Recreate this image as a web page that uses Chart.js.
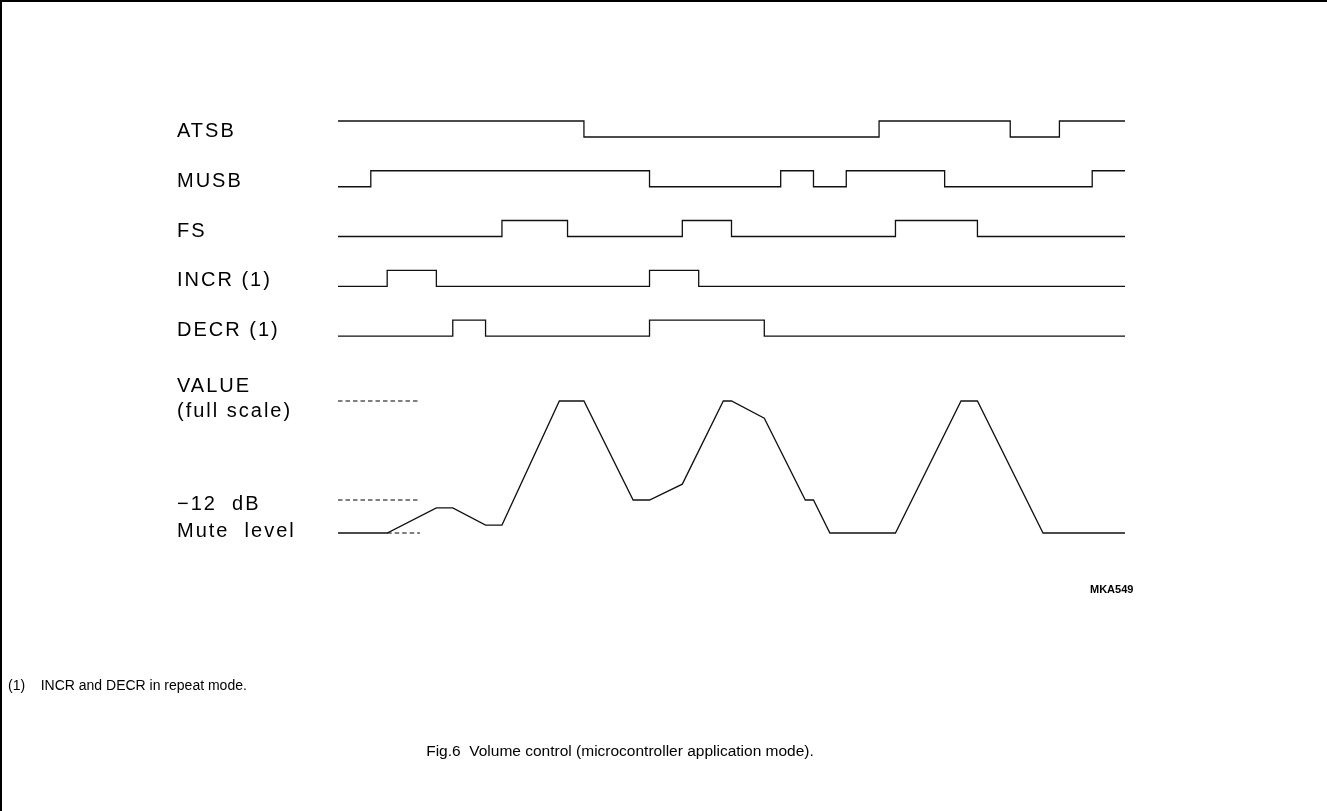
<!DOCTYPE html>
<html>
<head>
<meta charset="utf-8">
<script src="https://cdn.jsdelivr.net/npm/chart.js@4.4.1/dist/chart.umd.min.js"></script>
<style>
  html, body { margin: 0; padding: 0; background: #fff; }
  #wrap { position: relative; width: 1327px; height: 811px; }
</style>
</head>
<body>
<div id="wrap"><canvas id="c"></canvas></div>
<script>
// ---------- data (time in clock units, 0..48) ----------
const T_END = 48;
const signalNames = ['ATSB', 'MUSB', 'FS', 'INCR (1)', 'DECR (1)'];
const atsbInitial = 1;
const atsbEdges = [15, 33, 41, 44];
const musbInitial = 0;
const musbEdges = [2, 19, 27, 29, 31, 37, 46];
const fsInitial = 0;
const fsEdges = [10, 14, 21, 24, 34, 39];
const incrInitial = 0;
const incrEdges = [3, 6, 19, 22];
const decrInitial = 0;
const decrEdges = [7, 9, 19, 26];

// VALUE curve (fraction of full scale)
const valueTimes  = [0, 3, 6, 7, 9, 10, 13.5, 15, 18, 19, 21, 23.5, 24, 26, 28.5, 29, 30, 34, 38, 39, 43, 48];
const valueLevels = [0, 0, 0.19, 0.19, 0.06, 0.06, 1, 1, 0.25, 0.25, 0.37, 1, 1, 0.87, 0.25, 0.25, 0, 0, 1, 1, 0, 0];

// reference (dashed) levels
const refNames  = ['full scale', '-12 dB', 'mute'];
const refLevels = [1, 0.25, 0];
const refStart  = [0, 0, 3];
const refEnd    = [5, 5, 5];

// ---------- layout constants ----------
const VALUE_SPAN = 8.25;   // y units for full scale
const ROW_BASE = 12.31;    // DECR low level
const ROW_GAP = 3.11;
const Y_MAX = 25.75;

function rowLow(i) { return ROW_BASE + (signalNames.length - 1 - i) * ROW_GAP; }

function stepPoints(initial, edges, i) {
  const lo = rowLow(i), hi = lo + 1;
  let s = initial;
  const pts = [{x: 0, y: s ? hi : lo}];
  edges.forEach(t => {
    pts.push({x: t, y: s ? hi : lo});
    s = 1 - s;
    pts.push({x: t, y: s ? hi : lo});
  });
  pts.push({x: T_END, y: s ? hi : lo});
  return pts;
}

const signals = [
  [atsbInitial, atsbEdges], [musbInitial, musbEdges], [fsInitial, fsEdges],
  [incrInitial, incrEdges], [decrInitial, decrEdges]
];

const datasets = [];
signals.forEach((s, i) => {
  datasets.push({
    label: signalNames[i],
    data: stepPoints(s[0], s[1], i),
    borderColor: '#111', borderWidth: 1.3, pointRadius: 0, showLine: true, fill: false, tension: 0
  });
});
datasets.push({
  label: 'VALUE',
  data: valueTimes.map((t, k) => ({x: t, y: valueLevels[k] * VALUE_SPAN})),
  borderColor: '#111', borderWidth: 1.3, pointRadius: 0, showLine: true, fill: false, tension: 0
});
refLevels.forEach((v, k) => {
  datasets.push({
    label: refNames[k],
    data: [{x: refStart[k], y: v * VALUE_SPAN}, {x: refEnd[k], y: v * VALUE_SPAN}],
    borderColor: '#000', borderWidth: 1, borderDash: [4.5, 3], pointRadius: 0, showLine: true, fill: false
  });
});

const LABEL_FONT = '20px "Liberation Sans"';
const labelPlugin = {
  id: 'labels',
  afterDraw(chart) {
    const ctx = chart.ctx;
    const ys = chart.scales.y;
    ctx.save();
    ctx.fillStyle = '#000';
    ctx.textBaseline = 'alphabetic';
    ctx.textAlign = 'left';
    ctx.font = LABEL_FONT;
    ctx.letterSpacing = '2px';
    const LX = 177;
    signalNames.forEach((n, i) => {
      ctx.fillText(n, LX, ys.getPixelForValue(rowLow(i)));
    });
    const fsY = ys.getPixelForValue(VALUE_SPAN);
    ctx.fillText('VALUE', LX, fsY - 9);
    ctx.fillText('(full scale)', LX, fsY + 16);
    const dbY = ys.getPixelForValue(0.25 * VALUE_SPAN);
    ctx.fillText('\u221212  dB', LX, dbY + 10);
    const muteY = ys.getPixelForValue(0);
    ctx.fillText('Mute  level', LX, muteY + 4);

    ctx.letterSpacing = '0px';
    ctx.textBaseline = 'middle';
    ctx.font = 'bold 11px "Liberation Sans"';
    ctx.fillText('MKA549', 1090, 590);
    ctx.font = '14px "Liberation Sans"';
    ctx.fillText('(1)    INCR and DECR in repeat mode.', 8, 686);
    ctx.font = '15.5px "Liberation Sans"';
    ctx.textAlign = 'center';
    ctx.fillText('Fig.6  Volume control (microcontroller application mode).', 620, 752);

    // frame (top and left edges)
    ctx.strokeStyle = '#000';
    ctx.lineWidth = 2;
    ctx.beginPath();
    ctx.moveTo(1, 811);
    ctx.lineTo(1, 1);
    ctx.lineTo(1327, 1);
    ctx.stroke();
    ctx.restore();
  }
};

new Chart(document.getElementById('c'), {
  type: 'scatter',
  data: { datasets },
  options: {
    responsive: true,
    maintainAspectRatio: false,
    animation: false,
    layout: { padding: { left: 338, right: 202, top: 121, bottom: 278 } },
    plugins: { legend: { display: false }, tooltip: { enabled: false }, title: { display: false } },
    elements: { line: { borderCapStyle: 'butt', borderJoinStyle: 'miter' } },
    datasets: { scatter: { clip: false } },
    scales: {
      x: { type: 'linear', min: 0, max: T_END, display: false },
      y: { type: 'linear', min: 0, max: Y_MAX, display: false }
    }
  },
  plugins: [labelPlugin]
});
</script>
</body>
</html>
